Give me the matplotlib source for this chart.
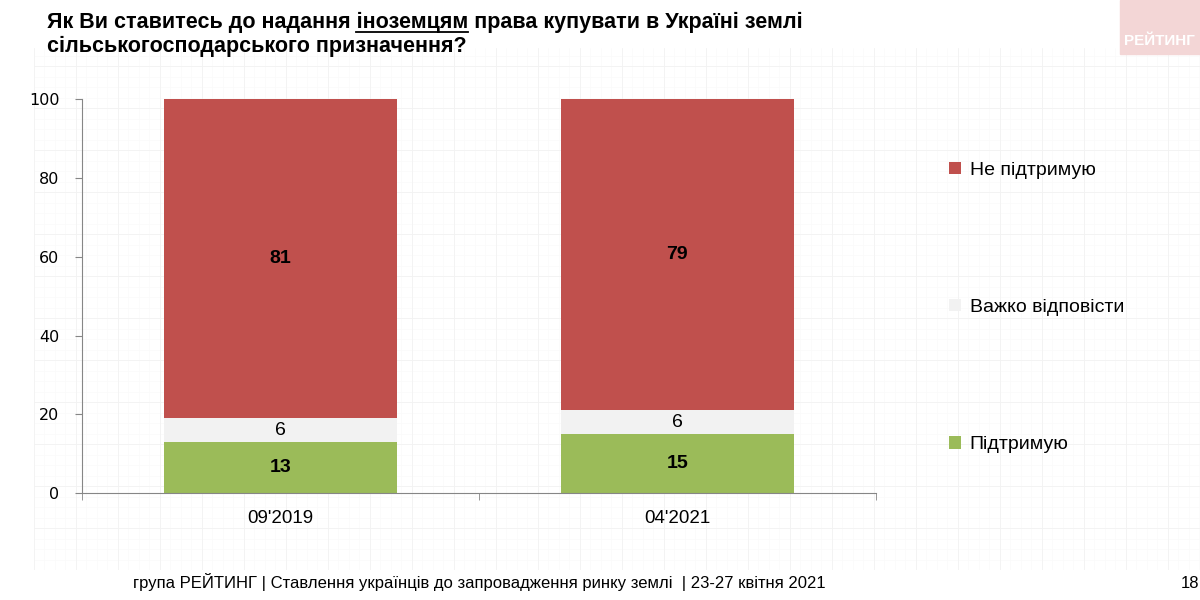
import matplotlib.pyplot as plt
import numpy as np

plt.rcParams['font.family'] = ['Liberation Sans', 'DejaVu Sans']

# data
periods = ["09'2019", "04'2021"]
support = [13, 15]
hard_to_say = [6, 6]
not_support = [81, 79]
series_names = ['Підтримую', 'Важко відповісти', 'Не підтримую']
colors = ['#9BBB59', '#F2F2F2', '#C0504D']
y_ticks = [0, 20, 40, 60, 80, 100]

title_1a = 'Як Ви ставитесь до надання '
title_1b = 'іноземцям'
title_1c = ' права купувати в Україні землі'
title_2 = 'сільськогосподарського призначення?'
footer = 'група РЕЙТИНГ | Ставлення українців до запровадження ринку землі  | 23-27 квітня 2021'
title_size = 15.5

fig = plt.figure(figsize=(12, 6), dpi=100)

# faint graph-paper background of the slide
bg = fig.add_axes([0.028, 0.05, 0.972, 0.87], zorder=-5)
bg.set_xlim(0, 1166)
bg.set_ylim(0, 522)
for v in np.arange(0, 1166, 10.5):
    bg.axvline(v, color='#fafafa', lw=0.5)
for v in np.arange(0, 522, 10.5):
    bg.axhline(v, color='#fafafa', lw=0.5)
for v in np.arange(0, 1166, 42):
    bg.axvline(v, color='#f2f2f2', lw=0.6)
for v in np.arange(0, 522, 42):
    bg.axhline(v, color='#f2f2f2', lw=0.6)
bg.axis('off')

ax = fig.add_axes([0.068, 0.178, 0.662, 0.657])
ax.patch.set_alpha(0)
x = np.arange(len(periods))
w = 0.587
bottoms = np.zeros(len(periods))
handles = []
for vals, name, c in zip([support, hard_to_say, not_support], series_names, colors):
    bars = ax.bar(x, vals, w, bottom=bottoms, color=c, label=name, zorder=2)
    handles.append(bars)
    for xi, b, v in zip(x, bottoms, vals):
        bold = name != 'Важко відповісти'
        ax.text(xi, b + v / 2, str(v), ha='center', va='center', fontsize=14,
                fontweight='bold' if bold else 'normal', color='black', zorder=3)
    bottoms = bottoms + np.array(vals)

ax.set_xlim(-0.5, 1.5)
ax.set_ylim(0, 100)
ax.set_yticks(y_ticks)
ax.set_yticklabels([str(t) for t in y_ticks], family='DejaVu Sans', fontsize=11.5)
ax.set_xticks(x)
ax.set_xticklabels(periods, fontsize=13.5)
ax.tick_params(axis='x', length=0, pad=12)
ax.set_xticks([-0.5, 0.5, 1.5], minor=True)
ax.tick_params(axis='x', which='minor', length=5, color='#868686')
ax.tick_params(axis='y', length=5, color='#868686', pad=11)
for s in ['top', 'right']:
    ax.spines[s].set_visible(False)
for s in ['left', 'bottom']:
    ax.spines[s].set_color('#868686')

leg = ax.legend(handles[::-1], series_names[::-1], loc='upper left',
                bbox_to_anchor=(1.07, 0.885), frameon=False, fontsize=14,
                handlelength=0.6, handleheight=0.6, handletextpad=0.45,
                labelspacing=6.18)

# title with underlined word
tx, ty = 0.039, 0.953
fig.text(tx, ty, title_1a + title_1b + title_1c, fontsize=title_size, fontweight='bold',
         va='baseline')
fig.text(tx, ty - 0.04, title_2, fontsize=title_size, fontweight='bold', va='baseline')
fig.canvas.draw()
r = fig.canvas.get_renderer()
def width_of(s):
    t = fig.text(0, 0, s, fontsize=title_size, fontweight='bold')
    wd = t.get_window_extent(r).width
    t.remove()
    return wd / fig.bbox.width
x0 = tx + width_of(title_1a + 'і') - width_of('і')
x1 = tx + width_of(title_1a + title_1b)
fig.add_artist(plt.Line2D([x0, x1], [ty - 0.007, ty - 0.007], color='black', lw=1.3,
                          transform=fig.transFigure))

fig.text(0.111, 0.02, footer, fontsize=12, va='baseline')
fig.text(0.999, 0.02, '18', fontsize=12, va='baseline', ha='right')

# brand badge in the top right
fig.patches.append(plt.Rectangle((0.933, 0.91), 0.07, 0.09, transform=fig.transFigure,
                                 color='#f3d6d6', zorder=0))
fig.text(0.937, 0.925, 'РЕЙТИНГ', fontsize=11, fontweight='bold', color='white')

fig.savefig('out.png', dpi=100)
